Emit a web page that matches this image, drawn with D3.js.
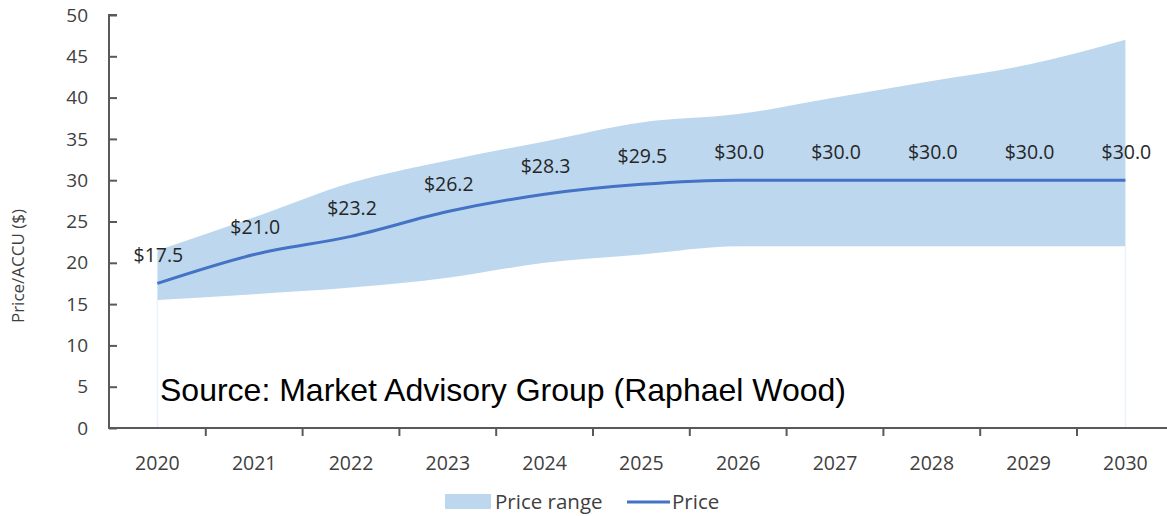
<!DOCTYPE html>
<html>
<head>
<meta charset="utf-8">
<script src="https://cdn.jsdelivr.net/npm/d3@7"></script>
<style>
    body { margin: 0; background: #fff; }
    svg { display: block; font-family: "Open Sans", "Noto Sans", sans-serif; }
</style>
</head>
<body>
<svg id="chart" width="1167" height="516"></svg>
<script>
// 數據
const years = ['2020', '2021', '2022', '2023', '2024', '2025', '2026', '2027', '2028', '2029', '2030'];
const price = [17.5, 21.0, 23.2, 26.2, 28.3, 29.5, 30.0, 30.0, 30.0, 30.0, 30.0];
const rangeLow = [15.5, 16.2, 17.0, 18.2, 20.0, 21.0, 22.0, 22.0, 22.0, 22.0, 22.0];
const rangeHigh = [21.5, 25.5, 29.7, 32.4, 34.7, 37.0, 38.0, 40.0, 42.0, 44.0, 47.0];
const yTicks = [0, 5, 10, 15, 20, 25, 30, 35, 40, 45, 50];

const svg = d3.select('#chart');
const axisColor = '#595959';

// 比例尺
const x = d3.scaleBand()
    .domain(years)
    .range([109, 109 + 11 * 96.8]);
const cx = d => x(d) + x.bandwidth() / 2;

const y = d3.scaleLinear()
    .domain([0, 50])
    .range([428, 15]);

const rows = years.map((yr, i) => ({ yr, price: price[i], low: rangeLow[i], high: rangeHigh[i] }));

// 價格區間
const area = d3.area()
    .x(d => cx(d.yr))
    .y0(d => y(d.low))
    .y1(d => y(d.high))
    .curve(d3.curveMonotoneX);

svg.append('path')
    .datum(rows)
    .attr('d', area)
    .attr('fill', '#BDD7EE');

// 區間兩端的淡色豎線
[rows[0], rows[rows.length - 1]].forEach(d => {
    svg.append('line')
        .attr('x1', cx(d.yr)).attr('x2', cx(d.yr))
        .attr('y1', y(0)).attr('y2', y(d.low))
        .attr('stroke', '#EAF1FA')
        .attr('stroke-width', 1.5);
});

// 價格線
const line = d3.line()
    .x(d => cx(d.yr))
    .y(d => y(d.price))
    .curve(d3.curveMonotoneX);

svg.append('path')
    .datum(rows)
    .attr('d', line)
    .attr('fill', 'none')
    .attr('stroke', '#4472C4')
    .attr('stroke-width', 3);

// 數據標籤
svg.append('g')
    .selectAll('text')
    .data(rows)
    .join('text')
    .attr('x', d => cx(d.yr) + 1)
    .attr('y', d => y(d.price) - 21)
    .attr('text-anchor', 'middle')
    .attr('font-size', '19.5px')
    .attr('fill', '#262626')
    .text(d => '$' + d.price.toFixed(1));

// Y軸
const yAxis = svg.append('g')
    .attr('transform', 'translate(109,0)')
    .call(d3.axisRight(y).tickValues(yTicks).tickSize(8).tickFormat(''));
yAxis.select('.domain').attr('stroke', axisColor).attr('stroke-width', 2).attr('d', `M8,${y(50)}H0V${y(0)}`);
yAxis.selectAll('.tick line').attr('stroke', axisColor).attr('stroke-width', 2);

svg.append('g')
    .selectAll('text')
    .data(yTicks)
    .join('text')
    .attr('x', 88)
    .attr('y', d => y(d))
    .attr('dy', '0.35em')
    .attr('text-anchor', 'end')
    .attr('font-size', '19px')
    .attr('fill', '#404040')
    .text(d => d);

// X軸
const xAxis = svg.append('g')
    .attr('transform', `translate(0,${y(0)})`)
    .call(d3.axisBottom(x).tickSize(0).tickFormat(''));
xAxis.select('.domain').attr('stroke', axisColor).attr('stroke-width', 2).attr('d', 'M108,0H1167');

svg.append('g')
    .selectAll('line')
    .data(years.slice(1))
    .join('line')
    .attr('x1', d => x(d)).attr('x2', d => x(d))
    .attr('y1', y(0)).attr('y2', y(0) + 8)
    .attr('stroke', axisColor)
    .attr('stroke-width', 2);

svg.append('g')
    .selectAll('text')
    .data(years)
    .join('text')
    .attr('x', d => cx(d))
    .attr('y', 470)
    .attr('text-anchor', 'middle')
    .attr('font-size', '19.5px')
    .attr('fill', '#404040')
    .text(d => d);

// 軸標題
svg.append('text')
    .attr('transform', 'translate(24,266) rotate(-90)')
    .attr('text-anchor', 'middle')
    .attr('font-size', '17px')
    .attr('fill', '#404040')
    .text('Price/ACCU ($)');

// 來源
svg.append('text')
    .attr('x', 160)
    .attr('y', 401)
    .style('font-family', '"Liberation Sans", Arial, sans-serif')
    .attr('font-size', '32px')
    .attr('fill', '#000')
    .text('Source: Market Advisory Group (Raphael Wood)');

// 圖例
const legend = svg.append('g');
legend.append('rect')
    .attr('x', 445).attr('y', 494)
    .attr('width', 46).attr('height', 15)
    .attr('fill', '#BDD7EE');
legend.append('text')
    .attr('x', 495).attr('y', 509)
    .attr('font-size', '20.5px')
    .attr('fill', '#404040')
    .text('Price range');
legend.append('line')
    .attr('x1', 627).attr('x2', 670)
    .attr('y1', 502).attr('y2', 502)
    .attr('stroke', '#4472C4')
    .attr('stroke-width', 3);
legend.append('text')
    .attr('x', 672).attr('y', 509)
    .attr('font-size', '20.5px')
    .attr('fill', '#404040')
    .text('Price');
</script>
</body>
</html>
